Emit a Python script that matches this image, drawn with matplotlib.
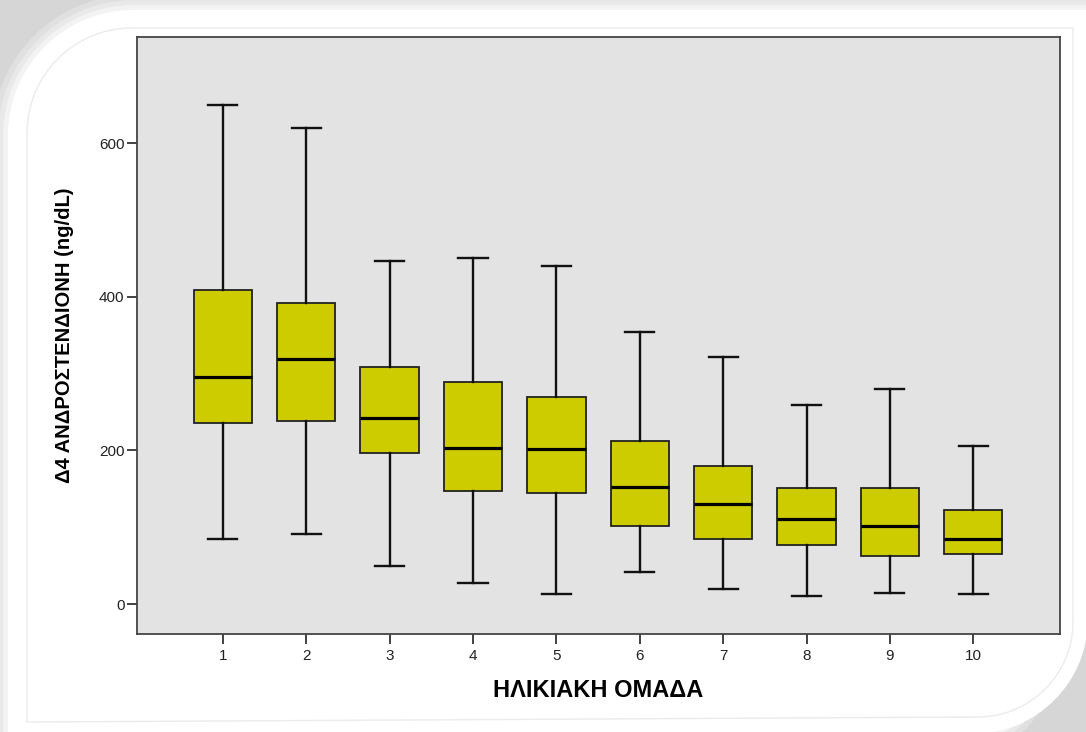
import matplotlib
matplotlib.use("Agg")
import matplotlib.pyplot as plt
from matplotlib.path import Path
from matplotlib.patches import PathPatch

plt.rcParams['font.family'] = ['Liberation Sans', 'DejaVu Sans']

# ---- data ----
groups = ["1", "2", "3", "4", "5", "6", "7", "8", "9", "10"]
whis_hi = [650, 620, 446, 450, 440, 354, 322, 259, 280, 206]
q3 = [409, 392, 309, 289, 270, 212, 180, 151, 151, 122]
medians = [296, 319, 242, 203, 202, 152, 130, 111, 101, 85]
q1 = [235, 238, 196, 147, 144, 102, 84, 77, 63, 65]
whis_lo = [85, 91, 50, 28, 13, 42, 20, 10, 15, 13]
y_ticks = [0, 200, 400, 600]
x_label = "ΗΛΙΚΙΑΚΗ ΟΜΑΔΑ"
y_label = "Δ4 ΑΝΔΡΟΣΤΕΝΔΙΟΝΗ (ng/dL)"

W, H = 1086, 732
fig = plt.figure(figsize=(W / 100, H / 100), dpi=100)
fig.patch.set_facecolor('#d6d6d6')

# ---- background card ----
bg = fig.add_axes([0, 0, 1, 1], zorder=-10)
bg.set_xlim(0, W)
bg.set_ylim(H, 0)
bg.axis('off')

def card_path(x0, y0, x1, y1, r1, r2):
    verts = [(x0, y1 + 5), (x0, y0 + r1),
             (x0, y0 + r1 * 0.45), (x0 + r1 * 0.45, y0), (x0 + r1, y0),
             (x1, y0), (x1, y1 - r2),
             (x1, y1 - r2 * 0.45), (x1 - r2 * 0.45, y1), (x1 - r2, y1),
             (x0, y1 + 5)]
    codes = [Path.MOVETO, Path.LINETO,
             Path.CURVE4, Path.CURVE4, Path.CURVE4,
             Path.LINETO, Path.LINETO,
             Path.CURVE4, Path.CURVE4, Path.CURVE4,
             Path.CLOSEPOLY]
    return Path(verts, codes)

outer = card_path(8, 10, W + 2, H + 2, 125, 115)
for lw, c in [(22, '#e0e0e0'), (14, '#e9e9e9'), (7, '#f3f3f3')]:
    bg.add_patch(PathPatch(outer, facecolor='none', edgecolor=c, lw=lw))
bg.add_patch(PathPatch(outer, facecolor='white', edgecolor='none'))
inner = card_path(27, 28, 1073, 717, 105, 95)
bg.add_patch(PathPatch(inner, facecolor='none', edgecolor='#ebebeb', lw=1.0))

# ---- main chart ----
ax = fig.add_axes([137 / W, 1 - 634 / H, (1060 - 137) / W, (634 - 37) / H], zorder=1)
ax.set_facecolor('#e3e3e3')

stats = []
for i, g in enumerate(groups):
    stats.append(dict(label=g, med=medians[i], q1=q1[i], q3=q3[i],
                      whislo=whis_lo[i], whishi=whis_hi[i], fliers=[]))

positions = list(range(1, len(groups) + 1))
ax.bxp(stats, positions=positions, widths=0.7, capwidths=0.35,
       patch_artist=True, showfliers=False,
       boxprops=dict(facecolor='#cccc00', edgecolor='#222222', linewidth=1.3),
       medianprops=dict(color='black', linewidth=2.3),
       whiskerprops=dict(color='#111111', linewidth=1.7),
       capprops=dict(color='#111111', linewidth=1.7))

ax.set_xlim(-0.03, 11.04)
ax.set_ylim(-39, 738)
ax.set_xticks(positions)
ax.set_xticklabels(groups)
ax.set_yticks(y_ticks)
ax.set_yticklabels([str(v) for v in y_ticks])
ax.tick_params(axis='both', direction='out', length=7, width=1.3, color='#333333',
               labelsize=11, labelcolor='#222222')
ax.tick_params(axis='x', pad=4)
ax.tick_params(axis='y', pad=2)
for s in ax.spines.values():
    s.set_color('#444444')
    s.set_linewidth(1.3)

ax.set_xlabel(x_label, fontsize=17, fontweight='bold', labelpad=11)
ax.set_ylabel(y_label, fontsize=14.5, fontweight='bold', labelpad=18)

fig.savefig('out.png', dpi=100, facecolor=fig.get_facecolor())
